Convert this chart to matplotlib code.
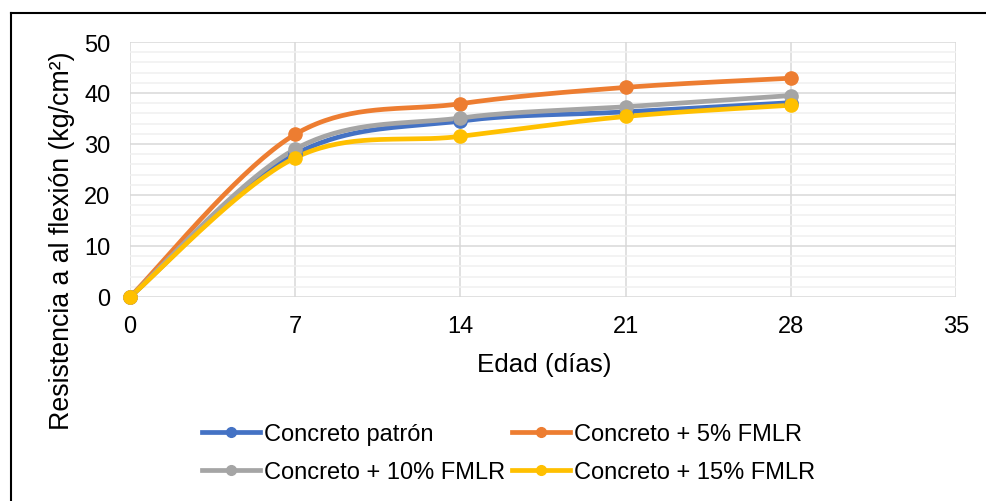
import matplotlib.pyplot as plt
import numpy as np
from matplotlib.lines import Line2D
from matplotlib.ticker import MultipleLocator

plt.rcParams['font.family'] = ['Liberation Sans', 'DejaVu Sans']

edad = [0, 7, 14, 21, 28]
patron = [0, 28.0, 34.5, 36.3, 38.1]
fmlr_5 = [0, 31.9, 37.9, 41.1, 42.9]
fmlr_10 = [0, 29.0, 35.1, 37.3, 39.5]
fmlr_15 = [0, 27.3, 31.5, 35.4, 37.6]

labels = ['Concreto patrón', 'Concreto + 5% FMLR',
          'Concreto + 10% FMLR', 'Concreto + 15% FMLR']
colors = ['#4472C4', '#ED7D31', '#A5A5A5', '#FFC000']


def smooth(xs, ys, n=40):
    """Bezier smoothing like the spreadsheet 'smoothed line' option."""
    p = np.column_stack([xs, ys]).astype(float)
    pts = [p[0]]
    for i in range(len(p) - 1):
        p0 = p[max(i - 1, 0)]
        p1 = p[i]
        p2 = p[i + 1]
        p3 = p[min(i + 2, len(p) - 1)]
        c1 = p1 + (p2 - p0) / 6
        c2 = p2 - (p3 - p1) / 6
        t = np.linspace(0, 1, n)[1:, None]
        seg = ((1 - t) ** 3 * p1 + 3 * (1 - t) ** 2 * t * c1
               + 3 * (1 - t) * t ** 2 * c2 + t ** 3 * p2)
        pts.extend(seg)
    pts = np.array(pts)
    return pts[:, 0], pts[:, 1]


fig = plt.figure(figsize=(9.86, 5.02), dpi=100)
ax = fig.add_axes([130 / 986, 1 - 298 / 502, 826 / 986, 255 / 502])

# outer frame
fig.add_artist(Line2D([11 / 986, 1.01], [1 - 14 / 502, 1 - 14 / 502],
                      transform=fig.transFigure, color='black', lw=1.5))
fig.add_artist(Line2D([11 / 986, 11 / 986], [1 - 14 / 502, -0.01],
                      transform=fig.transFigure, color='black', lw=1.5))

series = [patron, fmlr_5, fmlr_10, fmlr_15]
for vals, c in zip(series, colors):
    sx, sy = smooth(edad, vals)
    ax.plot(sx, sy, color=c, lw=3.4, solid_capstyle='round', zorder=3,
            clip_on=False)
    ax.plot(edad, vals, 'o', color=c, ms=9.5, zorder=4, clip_on=False)

ax.set_xlim(0, 35)
ax.set_ylim(0, 50)
ax.xaxis.set_major_locator(MultipleLocator(7))
ax.yaxis.set_major_locator(MultipleLocator(10))
ax.yaxis.set_minor_locator(MultipleLocator(2))
ax.grid(True, which='major', color='#D9D9D9', lw=1.1, zorder=0)
ax.grid(True, which='minor', axis='y', color='#F0F0F0', lw=1.1, zorder=0)
ax.set_axisbelow(True)
for s in ax.spines.values():
    s.set_visible(False)
ax.tick_params(which='both', length=0, labelsize=17)
ax.tick_params(axis='y', pad=14)
ax.tick_params(axis='x', pad=13)

fig.text(544 / 986, 1 - 365 / 502, 'Edad (días)', fontsize=18.7,
         ha='center', va='center')
fig.text(62 / 986, 1 - 241 / 502, 'Resistencia a al flexión (kg/cm²)',
         fontsize=19.3, rotation=90, ha='center', va='center')

handles = [Line2D([], [], color=c, lw=3.4, marker='o', ms=7) for c in colors]
order = [0, 2, 1, 3]
fig.legend([handles[i] for i in order], [labels[i] for i in order],
           ncol=2, loc='upper left', bbox_to_anchor=(202 / 986, 1 - 424 / 502),
           frameon=False, fontsize=17, handlelength=2.46, handletextpad=0.17,
           columnspacing=0.3, labelspacing=0.68, borderpad=0, borderaxespad=0)

fig.savefig('out.png', dpi=100)
